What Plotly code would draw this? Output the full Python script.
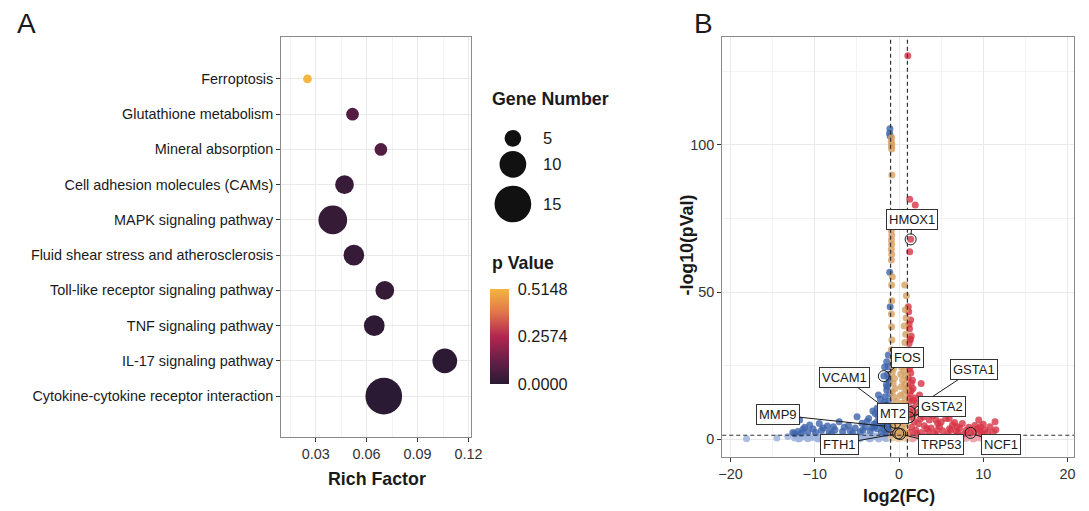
import plotly.graph_objects as go

# ---------------- Panel A: KEGG enrichment bubble chart ----------------
pathways = [
    "Ferroptosis",
    "Glutathione metabolism",
    "Mineral absorption",
    "Cell adhesion molecules (CAMs)",
    "MAPK signaling pathway",
    "Fluid shear stress and atherosclerosis",
    "Toll-like receptor signaling pathway",
    "TNF signaling pathway",
    "IL-17 signaling pathway",
    "Cytokine-cytokine receptor interaction",
]
rich_factor = [0.0252, 0.0517, 0.0684, 0.0470, 0.0401, 0.0525, 0.0707, 0.0645, 0.1060, 0.0701]
gene_count = [1, 3, 3, 6, 11, 7, 6, 7, 9, 15]
p_value = [0.5148, 0.090, 0.080, 0.030, 0.025, 0.022, 0.020, 0.010, 0.005, 0.002]

legend_counts = [5, 10, 15]
p_ticks = [0.0, 0.2574, 0.5148]
p_ticktext = ["0.0000", "0.2574", "0.5148"]

# ---------------- Panel B: volcano plot ----------------
# log2 fold change / -log10(p) pairs
log2fc = [
    # down-regulated
    -1.08, -1.12, -1.05, -1.10, -1.05, -1.27, -1.46, -1.27, -1.35, -1.15,
    -1.46, -2.44, -1.66, -1.20, -1.46, -2.05, -1.30, -2.83, -1.90, -1.20,
    -3.60, -4.98, -2.30, -1.50, -7.10, -9.46, -11.80, -11.20, -10.60, -8.50,
    -6.00, -5.20, -4.00, -3.00, -2.60, -1.80, -1.30, -2.10, -3.40, -4.60,
    -5.80, -6.70, -7.60, -8.30, -9.20, -9.90, -10.80, -11.60, -12.40, -12.60,
    -2.20, -1.70, -1.40, -2.70, -3.20, -1.60, -1.25, -4.30, -5.50, -8.00,
    -11.40, -1.55, -1.95,
    -1.20, -1.50, -1.70, -1.10, -2.20, -2.60, -3.10, -1.40, -2.50, -3.80,
    -4.40, -6.50, -7.80, -9.00, -10.20, -12.00, -1.90, -2.90, -1.10, -1.15,
    # up-regulated
    1.05, 1.27, 1.93, 1.27, 1.15, 1.38, 1.25, 1.45, 1.20, 1.35,
    1.50, 1.20, 1.40, 1.60, 1.66, 2.63, 2.44, 1.30, 2.05, 1.60,
    3.22, 2.60, 4.39, 5.56, 6.35, 7.52, 9.46, 11.40, 10.80, 10.20,
    1.80, 2.30, 3.00, 3.80, 4.80, 5.20, 6.00, 6.80, 7.20, 8.00,
    8.90, 9.30, 9.80, 11.20, 2.00, 2.70, 3.50, 4.20, 5.80, 7.70,
    1.50, 1.30, 9.00, 10.00, 4.60, 5.95, 6.90, 9.66, 6.15, 1.25,
    1.45, 1.15, 1.35, 1.70, 1.10,
    1.10, 1.20, 1.30, 1.15, 1.25, 1.45, 1.10, 1.20, 1.90, 2.20,
    2.90, 3.60, 4.00, 1.70, 2.50, 3.30, 5.00, 6.60, 8.30, 7.00,
    9.60, 10.50, 11.50, 2.10, 4.50,
    # unchanged column
    -0.88, -0.92, -0.86, -0.90, -0.87, -0.85, -0.90, -0.88, -0.92, -0.86,
    -0.90, -0.88, -0.91, -0.87, -0.90, -0.80, -0.88, -0.86, -0.90, -0.88,
    -0.85, -0.90, -0.75, 0.68, 0.88, 0.75, 0.85, 0.62, 0.80, 0.70,
    0.86, 0.55, 0.75, 0.45, -0.65, 0.30, 0.60, -0.80, 0.20, 0.80,
    -0.55, 0.45, -0.70, 0.70, 0.30, -0.45, 0.85, -0.80, 0.55, 0.15,
    -0.60, 0.75, -0.30, 0.40, -0.75, 0.65, 0.05, -0.50, 0.85, 0.25,
    -0.20, -0.80, 0.55, -0.40, 0.15, 0.75, -0.65, 0.35, -0.10, 0.60,
    -0.50, 0.90, -0.85, 0.25,
    # below the p threshold
    -12.4, -12.1, -11.8, -11.5, -11.2, -10.9, -10.6, -10.3, -10.0, -9.7,
    -9.4, -9.1, -8.8, -8.5, -8.2, -7.9, -7.6, -7.3, -7.0, -6.7,
    -6.4, -6.1, -5.8, -5.5, -5.2, -4.9, -4.6, -4.3, -4.0, -3.7,
    -3.4, -3.1, -2.8, -2.5, -2.2, -1.9, -1.6, -1.3, -1.1,
    -11.9, -10.8, -9.6, -8.4, -7.1, -5.9, -4.7, -3.5, -2.4, -1.5,
    -18.1, -14.5, -13.2,
    1.1, 1.4, 1.7, 2.0, 2.3, 2.6, 2.9, 3.2, 3.5, 3.8,
    4.1, 4.4, 4.7, 5.0, 5.3, 5.6, 5.9, 6.2, 6.5, 6.8,
    7.1, 7.4, 7.7, 8.0, 8.3, 8.6, 8.9, 9.2, 9.5, 9.8,
    10.1, 10.4, 10.7, 11.0, 11.3,
    1.6, 2.8, 4.0, 5.2, 6.4, 7.6, 8.8, 10.0,
    -0.9, -0.7, -0.5, -0.3, -0.1, 0.1, 0.3, 0.5, 0.7, 0.9,
]
neg_log10_p = [
    # down-regulated
    105.5, 104.0, 103.0, 56.7, 45.0, 28.6, 26.3, 24.6, 22.0, 19.5,
    16.7, 15.0, 14.4, 13.0, 11.6, 11.6, 9.5, 8.7, 8.0, 7.5,
    7.0, 7.6, 6.2, 5.8, 5.9, 5.3, 6.5, 4.0, 4.8, 4.4,
    4.6, 3.8, 4.1, 5.0, 3.5, 3.3, 2.8, 2.3, 2.7, 2.5,
    2.8, 2.6, 3.2, 2.4, 3.0, 2.2, 2.6, 2.0, 1.8, 2.2,
    9.8, 12.5, 17.8, 5.6, 3.9, 7.0, 5.2, 3.1, 2.0, 1.9,
    3.3, 2.0, 4.6,
    20.5, 18.5, 24.5, 15.5, 13.5, 10.5, 9.5, 8.5, 7.8, 6.0,
    5.4, 4.0, 4.2, 3.8, 3.4, 2.6, 5.0, 4.2, 6.5, 3.6,
    # up-regulated
    130.3, 81.5, 79.6, 63.7, 43.3, 40.5, 37.5, 35.0, 32.5, 30.0,
    27.5, 25.0, 22.5, 20.0, 17.2, 18.9, 15.0, 15.5, 12.1, 10.5,
    8.7, 10.0, 6.5, 7.0, 4.8, 5.3, 6.5, 5.9, 4.2, 3.1,
    6.0, 5.2, 4.5, 3.8, 4.3, 2.8, 3.5, 2.6, 3.8, 3.0,
    2.6, 3.6, 2.0, 2.4, 3.0, 2.2, 2.6, 1.9, 1.8, 1.7,
    4.0, 2.2, 4.6, 5.0, 5.3, 7.0, 4.2, 4.2, 3.1, 12.8,
    16.5, 28.5, 33.8, 13.2, 20.8,
    45.0, 39.0, 34.0, 29.0, 24.0, 19.0, 17.5, 13.8, 14.0, 9.0,
    7.5, 6.5, 8.0, 8.2, 6.8, 3.6, 5.8, 5.6, 4.0, 2.0,
    2.8, 2.2, 3.2, 1.9, 2.9,
    # unchanged column
    102.5, 101.2, 100.3, 99.4, 98.6, 89.8, 74.5, 72.6, 71.0, 69.4,
    67.8, 66.2, 64.5, 62.8, 60.9, 55.2, 52.4, 47.0, 42.5, 38.2,
    33.7, 30.4, 27.5, 52.4, 48.7, 44.0, 41.2, 38.4, 35.6, 32.8,
    30.2, 28.6, 26.8, 25.5, 24.0, 24.4, 23.2, 22.6, 22.0, 21.4,
    20.6, 20.0, 19.0, 18.6, 17.8, 17.2, 16.6, 16.0, 15.4, 14.8,
    14.2, 13.4, 12.8, 12.2, 11.6, 11.0, 10.4, 9.8, 9.2, 8.6,
    8.0, 7.4, 6.8, 6.2, 5.6, 5.0, 4.4, 3.8, 3.2, 2.6,
    2.2, 1.8, 1.6, 1.5,
    # below the p threshold
    0.4, 0.9, 0.2, 0.7, 1.1, 0.3, 0.8, 0.5, 1.0, 0.2,
    0.6, 1.1, 0.4, 0.9, 0.1, 0.7, 1.2, 0.3, 0.8, 0.5,
    1.0, 0.2, 0.6, 1.1, 0.4, 0.9, 0.3, 0.7, 1.2, 0.5,
    0.1, 0.8, 1.0, 0.4, 0.6, 1.1, 0.3, 0.9, 0.5,
    0.0, 0.1, 0.0, 0.2, 0.0, 0.1, 0.0, 0.1, 0.0, 0.2,
    0.1, 0.4, 0.9,
    0.5, 1.0, 0.3, 0.8, 1.1, 0.2, 0.7, 0.4, 1.0, 0.6,
    0.2, 1.1, 0.5, 0.8, 0.3, 0.9, 1.2, 0.4, 0.7, 0.1,
    1.0, 0.5, 0.8, 0.3, 1.1, 0.6, 0.2, 0.9, 0.4, 1.0,
    0.7, 0.3, 0.8, 0.5, 0.2,
    0.0, 0.1, 0.0, 0.1, 0.0, 0.1, 0.0, 0.1,
    0.3, 0.9, 0.5, 1.1, 0.2, 0.8, 0.4, 1.0, 0.6, 0.2,
]

# highlighted genes
gene_names = ["HMOX1", "FOS", "VCAM1", "MT2", "GSTA1", "GSTA2", "MMP9", "FTH1", "TRP53", "NCF1"]
gene_fc = [1.38, -1.80, -1.58, -0.45, 1.27, 1.20, -1.08, -0.10, 0.15, 8.50]
gene_p = [67.9, 21.4, 10.4, 5.5, 9.3, 7.4, 4.2, 1.9, 1.7, 2.1]

FC_CUT = 1.0
P_CUT = 1.3

# label box placement (data coordinates of the label centre)
label_pos = {
    "HMOX1": (1.58, 74.8), "FOS": (1.0, 27.8), "VCAM1": (-6.46, 20.9),
    "MT2": (-0.76, 8.7), "GSTA1": (8.88, 23.7), "GSTA2": (5.06, 11.0),
    "MMP9": (-14.4, 8.2), "FTH1": (-7.1, -1.7), "TRP53": (4.98, -1.7),
    "NCF1": (12.1, -1.7),
}

W, H = 1089, 511


def px_x(v):
    return v / W


def px_y(v):
    return 1 - v / H


def dot_size(n):
    # bubble diameter in pixels for a gene count
    return 6.7 + 2.0 * n


FONT = "Liberation Sans, Arial, sans-serif"
pv_scale = [
    [0.0, "#2a1a33"], [0.25, "#681f48"], [0.5, "#b3264f"],
    [0.75, "#e0744b"], [1.0, "#f3b640"],
]

fig = go.Figure()

fig.add_trace(go.Scatter(
    x=rich_factor, y=pathways, mode="markers", xaxis="x", yaxis="y",
    marker=dict(
        size=[dot_size(n) for n in gene_count],
        color=p_value, colorscale=pv_scale, cmin=0, cmax=max(p_ticks),
        line=dict(width=0), opacity=1,
        colorbar=dict(
            x=px_x(492.7), xanchor="left", xpad=0,
            y=px_y(384), yanchor="bottom", ypad=0,
            len=95, lenmode="pixels", thickness=19, thicknessmode="pixels",
            outlinewidth=0, tickvals=p_ticks, ticktext=p_ticktext,
            ticks="outside", ticklen=6, tickcolor="rgba(0,0,0,0)",
            tickfont=dict(family=FONT, size=16.3, color="#1a1a1a"),
        ),
    ),
    showlegend=False, hoverinfo="skip",
))

# split volcano points into groups by thresholds
groups = {
    "down": ([], [], "#3d64ad", 0.8),
    "up": ([], [], "#d63446", 0.8),
    "ns": ([], [], "#d6a063", 0.8),
    "down_lo": ([], [], "#9fb4de", 0.85),
    "up_lo": ([], [], "#eba3ab", 0.85),
    "ns_lo": ([], [], "#e8c9a3", 0.85),
}
for fc, lp in zip(log2fc + gene_fc, neg_log10_p + gene_p):
    if abs(fc) <= FC_CUT:
        key = "ns"
    elif fc < 0:
        key = "down"
    else:
        key = "up"
    if lp < P_CUT:
        key += "_lo"
    groups[key][0].append(fc)
    groups[key][1].append(lp)

for key in ["down_lo", "up_lo", "ns_lo", "down", "up", "ns"]:
    gx, gy, col, op = groups[key]
    fig.add_trace(go.Scatter(
        x=gx, y=gy, mode="markers", xaxis="x2", yaxis="y2",
        marker=dict(size=7, color=col, opacity=op, line=dict(width=0)),
        showlegend=False, hoverinfo="skip",
    ))

fig.add_trace(go.Scatter(
    x=gene_fc, y=gene_p, mode="markers", xaxis="x2", yaxis="y2",
    marker=dict(symbol="circle-open", size=11, color="#1a1a1a", line=dict(width=1)),
    showlegend=False, hoverinfo="skip",
))

axis_common = dict(
    showline=True, mirror=True, linecolor="#8a8a8a", linewidth=1,
    ticks="outside", ticklen=4, tickcolor="#333333", tickwidth=1,
    showgrid=True, gridcolor="#e9e9e9", gridwidth=1, zeroline=False,
    tickfont=dict(family=FONT, size=14.4, color="#333333"),
)

fig.update_layout(
    width=W, height=H, margin=dict(l=0, r=0, t=0, b=0),
    paper_bgcolor="white", plot_bgcolor="white",
    font=dict(family=FONT, color="#1a1a1a"),
    xaxis=dict(
        domain=[px_x(281), px_x(474)], range=[0.0097, 0.1217],
        tickmode="linear", tick0=0, dtick=0.03, tickformat=".2f",
        minor=dict(dtick=0.015, tick0=0, showgrid=True, gridcolor="#f3f3f3", ticks=""),
        anchor="y", **axis_common,
    ),
    yaxis=dict(
        domain=[px_y(437), px_y(37)], type="category",
        categoryorder="array", categoryarray=pathways[::-1],
        range=[-1.16, 10.19], anchor="x",
        **{**axis_common, "tickfont": dict(family=FONT, size=14.4, color="#1a1a1a")},
    ),
    xaxis2=dict(
        domain=[px_x(728.3), px_x(1085)], range=[-20.98, 20.78],
        tickmode="linear", tick0=0, dtick=10,
        minor=dict(dtick=5, tick0=0, showgrid=True, gridcolor="#f3f3f3", ticks=""),
        anchor="y2", **axis_common,
    ),
    yaxis2=dict(
        domain=[px_y(456.7), px_y(37.3)], range=[-6.0, 136.6],
        tickmode="linear", tick0=0, dtick=50,
        minor=dict(dtick=25, tick0=0, showgrid=True, gridcolor="#f3f3f3", ticks=""),
        anchor="x2", **axis_common,
    ),
)

# threshold lines
dash = dict(color="#333333", width=1.2, dash="4px,3px")
for xv in (-FC_CUT, FC_CUT):
    fig.add_shape(type="line", xref="x2", yref="y2 domain", x0=xv, x1=xv, y0=0, y1=1, line=dash)
fig.add_shape(type="line", xref="x2 domain", yref="y2", x0=0, x1=1, y0=P_CUT, y1=P_CUT, line=dash)

# gene number size legend
legend_y = [138.3, 164.3, 204.0]
for n, cy in zip(legend_counts, legend_y):
    r = dot_size(n) / 2
    fig.add_shape(
        type="circle", xref="paper", yref="paper",
        xsizemode="pixel", ysizemode="pixel",
        xanchor=px_x(516), yanchor=px_y(cy),
        x0=-r, x1=r, y0=-r, y1=r,
        fillcolor="#111111", line=dict(width=0),
    )
    fig.add_annotation(
        x=px_x(544), y=px_y(cy), xref="paper", yref="paper",
        xanchor="left", yanchor="middle", text=str(n), showarrow=False,
        font=dict(family=FONT, size=16.5, color="#1a1a1a"),
    )

texts = [
    ("A", 11, 23, 28, "left", 0),
    ("B", 698, 23, 28, "left", 0),
    ("<b>Gene Number</b>", 493, 99, 17.8, "left", 0),
    ("<b>p Value</b>", 493, 263, 17.7, "left", 0),
    ("<b>Rich Factor</b>", 378, 479, 17.8, "center", 0),
    ("<b>log2(FC)</b>", 907, 496, 17.8, "center", 0),
    ("<b>-log10(pVal)</b>", 693, 245, 17.8, "center", -90),
]
for txt, x, y, size, anchor, ang in texts:
    fig.add_annotation(
        x=px_x(x), y=px_y(y), xref="paper", yref="paper",
        xanchor=anchor, yanchor="middle", text=txt, showarrow=False, textangle=ang,
        font=dict(family=FONT, size=size, color="#1a1a1a"),
    )

# gene labels with leader lines
for name, fx, fy in zip(gene_names, gene_fc, gene_p):
    lx, ly = label_pos[name]
    fig.add_annotation(
        x=fx, y=fy, xref="x2", yref="y2", ax=lx, ay=ly, axref="x2", ayref="y2",
        text=name, showarrow=True, arrowhead=0, arrowwidth=1, arrowcolor="#1a1a1a",
        standoff=5, bgcolor="white", bordercolor="#333333", borderwidth=1, borderpad=2,
        font=dict(family=FONT, size=13, color="#1a1a1a"),
    )

fig.write_html("out.html")
